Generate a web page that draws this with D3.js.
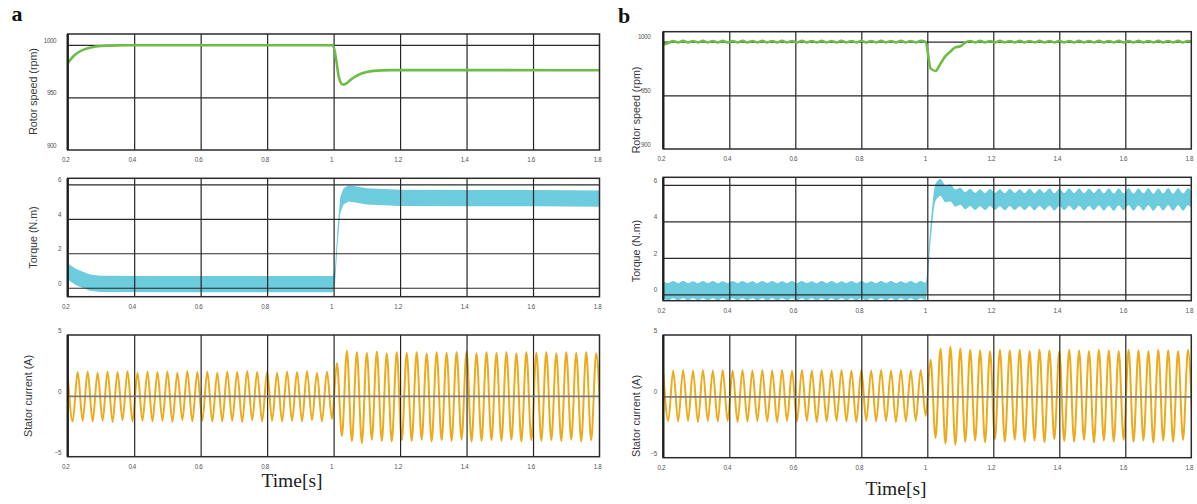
<!DOCTYPE html>
<html lang="en">
<head>
<meta charset="utf-8">
<title>motor response a / b</title>
<style>
  body { margin: 0; background: #fff; }
  svg { display: block; }
</style>
</head>
<body>
<script src="https://d3js.org/d3.v7.min.js"></script>
<script>
// ---------------- data ----------------
const timeTicks = [0.2, 0.4, 0.6, 0.8, 1, 1.2, 1.4, 1.6, 1.8];
const speedTicks = [900, 950, 1000];
const torqueTicks = [0, 2, 4, 6];
const currentTicks = [-5, 0, 5];

// oscillating traces: one reading per half cycle, starting at t = 0.2 s
const sampleStart = 0.2;
const halfCycle = 0.015;

// (a) rotor speed, rpm
const speedATime = [0.2, 0.215, 0.23, 0.25, 0.27, 0.3, 0.35, 0.4, 0.7, 0.998, 1.004, 1.008, 1.015, 1.021, 1.027, 1.037, 1.05, 1.065, 1.08, 1.1, 1.12, 1.17, 1.3, 1.5, 1.8];
const speedAValue = [982.6, 988.5, 992.5, 995.8, 997.6, 999.0, 999.6, 999.7, 999.7, 999.7, 993, 985.5, 970.5, 964.5, 962.3, 963.0, 966.5, 969.8, 972.3, 974.3, 975.3, 976.0, 976.0, 976.0, 975.9];

// (a) torque, N.m : centre of the noisy band and its half width
const torqueATime = [0.2, 0.227, 0.267, 0.3, 0.5, 0.8, 0.998, 1.004, 1.012, 1.02, 1.03, 1.045, 1.07, 1.1, 1.2, 1.4, 1.6, 1.8];
const torqueAMid = [0.94, 0.6, 0.3, 0.22, 0.21, 0.21, 0.21, 0.6, 3.0, 4.8, 5.3, 5.47, 5.4, 5.3, 5.22, 5.2, 5.2, 5.17];
const torqueABand = 0.47;

// (a) stator current, A : peaks and troughs
const currentA = [
  1.8, -2.1, 1.95, -2.05, 2.0, -2.1, 1.9, -2.05, 2.0, -2.15, 1.95, -2.0, 2.05, -2.1, 1.9, -2.05, 2.0, -2.1, 1.95, -2.05,
  2.0, -2.15, 1.9, -2.0, 2.05, -2.1, 1.95, -2.05, 2.0, -2.1, 1.9, -2.1, 2.0, -2.05, 1.95, -2.15, 2.05, -2.0, 1.95, -2.1,
  2.0, -2.05, 1.9, -2.1, 2.0, -2.05, 1.95, -2.1, 2.05, -2.0, 1.9, -2.1, 2.0, -1.9,
  2.7, -3.3, 3.7, -3.75, 3.6, -3.9, 3.55, -3.6, 3.65, -3.7, 3.5, -3.75, 3.6, -3.65, 3.55, -3.7, 3.6, -3.6, 3.5, -3.75,
  3.6, -3.65, 3.55, -3.7, 3.6, -3.6, 3.65, -3.75, 3.5, -3.7, 3.6, -3.65, 3.55, -3.7, 3.6, -3.6, 3.5, -3.75, 3.6, -3.65,
  3.55, -3.7, 3.6, -3.65, 3.5, -3.7, 3.6, -3.6, 3.55, -3.75, 3.6, -3.65, 3.5, -3.7
];

// (b) rotor speed, rpm (small ripple)
const speedB = [
  997.3, 998.7, 1000.5, 999.3, 1000.7, 999.2, 1000.6, 999.3, 1000.7, 999.3, 1000.6, 999.2, 1000.7, 999.3, 1000.6, 999.3, 1000.7, 999.2, 1000.6, 999.3,
  1000.7, 999.3, 1000.6, 999.2, 1000.7, 999.3, 1000.6, 999.3, 1000.7, 999.2, 1000.6, 999.3, 1000.7, 999.3, 1000.6, 999.2, 1000.7, 999.3, 1000.6, 999.3,
  1000.7, 999.2, 1000.6, 999.3, 1000.7, 999.3, 1000.6, 999.2, 1000.7, 999.3, 1000.6, 999.3, 1000.7, 999.6,
  975.0, 972.6, 979.5, 986.4, 990.8, 994.6, 995.6, 999.1, 1000.6, 999.3, 1000.7, 999.2, 1000.6, 999.3, 1000.7, 999.3, 1000.6, 999.2, 1000.7, 999.3,
  1000.6, 999.3, 1000.7, 999.2, 1000.6, 999.3, 1000.7, 999.3, 1000.6, 999.2, 1000.7, 999.3, 1000.6, 999.3, 1000.7, 999.2, 1000.6, 999.3, 1000.7, 999.3,
  1000.6, 999.2, 1000.7, 999.3, 1000.6, 999.3, 1000.7, 999.2, 1000.6, 999.3, 1000.7, 999.3, 1000.6, 999.2
];

// (b) torque, N.m : rippling band centre and half width
const torqueBMid = [
  0.25, 0.15, 0.26, 0.14, 0.26, 0.15, 0.25, 0.14, 0.26, 0.15, 0.26, 0.14, 0.25, 0.15, 0.26, 0.14, 0.26, 0.15, 0.25, 0.14,
  0.26, 0.15, 0.26, 0.14, 0.25, 0.15, 0.26, 0.14, 0.26, 0.15, 0.25, 0.14, 0.26, 0.15, 0.26, 0.14, 0.25, 0.15, 0.26, 0.14,
  0.26, 0.15, 0.25, 0.14, 0.26, 0.15, 0.26, 0.14, 0.25, 0.15, 0.26, 0.14, 0.26, 0.16,
  3.4, 5.6, 5.86, 5.52, 5.56, 5.28, 5.38, 5.14, 5.32, 5.1, 5.3, 5.09, 5.31, 5.1, 5.3, 5.08, 5.32, 5.1, 5.3, 5.09,
  5.32, 5.08, 5.31, 5.1, 5.33, 5.07, 5.32, 5.09, 5.33, 5.08, 5.33, 5.07, 5.32, 5.09, 5.34, 5.07, 5.33, 5.06, 5.34, 5.08,
  5.35, 5.06, 5.34, 5.07, 5.35, 5.05, 5.34, 5.07, 5.35, 5.05, 5.35, 5.06, 5.35, 5.05
];
const torqueBBand = 0.47;

// (b) stator current, A : peaks and troughs
const currentB = [
  1.9, -2.0, 2.1, -2.05, 2.15, -2.0, 2.1, -2.1, 2.15, -2.0, 2.1, -2.05, 2.15, -2.0, 2.1, -2.1, 2.15, -2.05, 2.1, -2.0,
  2.15, -2.05, 2.1, -2.1, 2.15, -2.0, 2.1, -2.05, 2.15, -2.0, 2.1, -2.1, 2.15, -2.05, 2.1, -2.0, 2.15, -2.05, 2.1, -2.1,
  2.15, -2.0, 2.1, -2.05, 2.15, -2.0, 2.1, -2.1, 2.15, -2.05, 2.1, -2.0, 2.15, -1.6,
  3.0, -3.4, 3.9, -3.85, 4.05, -3.95, 3.9, -3.7, 3.8, -3.6, 3.75, -3.75, 3.7, -3.5, 3.8, -3.7, 3.75, -3.55, 3.8, -3.7,
  3.7, -3.6, 3.8, -3.75, 3.75, -3.5, 3.7, -3.65, 3.8, -3.7, 3.75, -3.55, 3.7, -3.75, 3.8, -3.6, 3.75, -3.7, 3.7, -3.55,
  3.8, -3.7, 3.75, -3.6, 3.7, -3.75, 3.8, -3.6, 3.75, -3.7, 3.7, -3.55, 3.8, -3.7
];

// ---------------- colours / fonts ----------------
const GREEN = '#6cbd45', CYAN = '#6ccbdc', ORANGE = '#edab1c';
const SANS = '"Liberation Sans", Arial, sans-serif';
const SERIF = '"Liberation Serif", "Times New Roman", serif';

const W = 1197, H = 504;
const svg = d3.select('body').append('svg').attr('width', W).attr('height', H);

const sampleTime = (vals) => vals.map((v, i) => sampleStart + i * halfCycle);

// one block per subplot (layout only)
const plots = [
  { id: 'aS', left: 67.7, right: 599.5, top: 34, bottom: 150, domain: [900, 1010.4], ticks: speedTicks,
    label: 'Rotor speed (rpm)', labX: 36.5, labY: 91.5, tickPad: 11.5, kind: 'speed',
    t: speedATime, v: speedAValue },
  { id: 'aT', left: 67.7, right: 599.5, top: 178.3, bottom: 296.7, domain: [-0.52, 6.35], ticks: torqueTicks,
    label: 'Torque (N.m)', labX: 36.5, labY: 237.5, tickPad: 6.5, kind: 'torque',
    t: torqueATime, v: torqueAMid, band: torqueABand, curve: d3.curveLinear },
  { id: 'aC', left: 67.7, right: 599.5, top: 335, bottom: 456.7, domain: [-5, 5], ticks: currentTicks,
    label: 'Stator current (A)', labX: 31.5, labY: 396, tickPad: 6.5, kind: 'current',
    t: sampleTime(currentA), v: currentA },
  { id: 'bS', left: 663.3, right: 1191.3, top: 31.7, bottom: 149, domain: [900, 1009.2], ticks: speedTicks,
    label: 'Rotor speed (rpm)', labX: 640, labY: 110, tickPad: 13, kind: 'speed',
    t: sampleTime(speedB), v: speedB },
  { id: 'bT', left: 663.3, right: 1191.3, top: 177.3, bottom: 300.7, domain: [-0.35, 6.42], ticks: torqueTicks,
    label: 'Torque (N.m)', labX: 640, labY: 251, tickPad: 6.5, kind: 'torque',
    t: sampleTime(torqueBMid), v: torqueBMid, band: torqueBBand, curve: d3.curveMonotoneX },
  { id: 'bC', left: 663.3, right: 1191.3, top: 335, bottom: 457.7, domain: [-5, 5], ticks: currentTicks,
    label: 'Stator current (A)', labX: 639.5, labY: 416, tickPad: 6.5, kind: 'current',
    t: sampleTime(currentB), v: currentB }
];

plots.forEach(drawPlot);

function drawPlot(p) {
  const x = d3.scaleLinear().domain([timeTicks[0], timeTicks[timeTicks.length - 1]]).range([p.left, p.right]);
  const y = d3.scaleLinear().domain(p.domain).range([p.bottom, p.top]);
  const g = svg.append('g');
  const pts = p.t.map((t, i) => [t, p.v[i]]);

  g.append('clipPath').attr('id', 'clip-' + p.id)
    .append('rect')
    .attr('x', p.left).attr('y', p.top)
    .attr('width', p.right - p.left).attr('height', p.bottom - p.top);

  const series = g.append('g').attr('clip-path', 'url(#clip-' + p.id + ')');
  const grid = g.append('g');

  // vertical grid lines
  grid.append('g')
    .attr('transform', 'translate(0,' + p.bottom + ')')
    .call(d3.axisBottom(x).tickValues(timeTicks.slice(1, -1)).tickSize(-(p.bottom - p.top)).tickFormat(''))
    .call(s => s.select('.domain').remove())
    .selectAll('line').attr('stroke', '#262626').attr('stroke-width', 1.2);

  // horizontal grid lines
  const inner = p.ticks.filter(v => y(v) > p.top + 2 && y(v) < p.bottom - 2);
  grid.append('g')
    .attr('transform', 'translate(' + p.left + ',0)')
    .call(d3.axisLeft(y).tickValues(inner).tickSize(-(p.right - p.left)).tickFormat(''))
    .call(s => s.select('.domain').remove())
    .selectAll('line')
    .attr('stroke', d => (d === 0 && p.kind === 'current') ? '#7b7b7b' : '#2a2a2a')
    .attr('stroke-width', d => (d === 0 && p.kind === 'current') ? 1.7 : 1.2);

  // traces
  if (p.kind === 'speed') {
    // speed line sits over the grid
    grid.raise();
    series.raise();
    series.append('path')
      .datum(pts)
      .attr('fill', 'none')
      .attr('stroke', GREEN)
      .attr('stroke-width', 2.6)
      .attr('stroke-linejoin', 'round')
      .attr('d', d3.line().x(d => x(d[0])).y(d => y(d[1])).curve(d3.curveMonotoneX));
  } else if (p.kind === 'torque') {
    series.append('path')
      .datum(pts)
      .attr('fill', CYAN)
      .attr('d', d3.area()
        .x(d => x(d[0]))
        .y0(d => y(d[1] - p.band))
        .y1(d => y(d[1] + p.band))
        .curve(p.curve));
  } else {
    series.append('path')
      .datum(pts)
      .attr('fill', 'none')
      .attr('stroke', ORANGE)
      .attr('stroke-width', 2.0)
      .attr('stroke-linejoin', 'round')
      .attr('d', d3.line().x(d => x(d[0])).y(d => y(d[1])).curve(d3.curveMonotoneX));
    grid.raise();
  }

  // frame
  const frame = g.append('g').attr('fill', 'none').attr('stroke', '#2b2b2b');
  frame.append('rect')
    .attr('x', p.left).attr('y', p.top)
    .attr('width', p.right - p.left).attr('height', p.bottom - p.top)
    .attr('stroke-width', 1.5);
  frame.append('line')
    .attr('x1', p.left).attr('x2', p.left).attr('y1', p.top).attr('y2', p.bottom)
    .attr('stroke-width', 2.3).attr('stroke', '#1e1e1e');

  // tick labels
  const xl = g.append('g')
    .attr('transform', 'translate(0,' + p.bottom + ')')
    .call(d3.axisBottom(x).tickValues(timeTicks).tickSize(0).tickPadding(7.5).tickFormat(d3.format('')));
  xl.select('.domain').remove();
  xl.selectAll('text')
    .attr('dx', -2.5)
    .attr('fill', '#555')
    .attr('font-family', SANS)
    .attr('font-size', 6.3)
    .attr('letter-spacing', -0.4);

  const yl = g.append('g')
    .attr('transform', 'translate(' + p.left + ',0)')
    .call(d3.axisLeft(y).tickValues(p.ticks).tickSize(0).tickPadding(p.tickPad).tickFormat(d3.format('')));
  yl.select('.domain').remove();
  yl.selectAll('text')
    .attr('dy', '-0.42em')
    .attr('fill', '#555')
    .attr('font-family', SANS)
    .attr('font-size', 6.3)
    .attr('letter-spacing', -0.4);

  // axis title
  g.append('text')
    .attr('transform', 'translate(' + p.labX + ',' + p.labY + ') rotate(-90)')
    .attr('text-anchor', 'middle')
    .attr('fill', '#3a3a3a')
    .attr('font-family', SANS)
    .attr('font-size', 10.7)
    .text(p.label);
}

// panel letters and time captions
svg.append('text').attr('x', 11.5).attr('y', 20.7)
  .attr('font-family', SERIF).attr('font-weight', 'bold').attr('font-size', 22).attr('fill', '#111').text('a');
svg.append('text').attr('x', 618).attr('y', 22.5)
  .attr('font-family', SERIF).attr('font-weight', 'bold').attr('font-size', 22).attr('fill', '#111').text('b');

svg.append('text').attr('x', 292).attr('y', 486.7).attr('text-anchor', 'middle')
  .attr('font-family', SERIF).attr('font-size', 19.5).attr('fill', '#222').text('Time[s]');
svg.append('text').attr('x', 896).attr('y', 495).attr('text-anchor', 'middle')
  .attr('font-family', SERIF).attr('font-size', 19.5).attr('fill', '#222').text('Time[s]');
</script>
</body>
</html>
